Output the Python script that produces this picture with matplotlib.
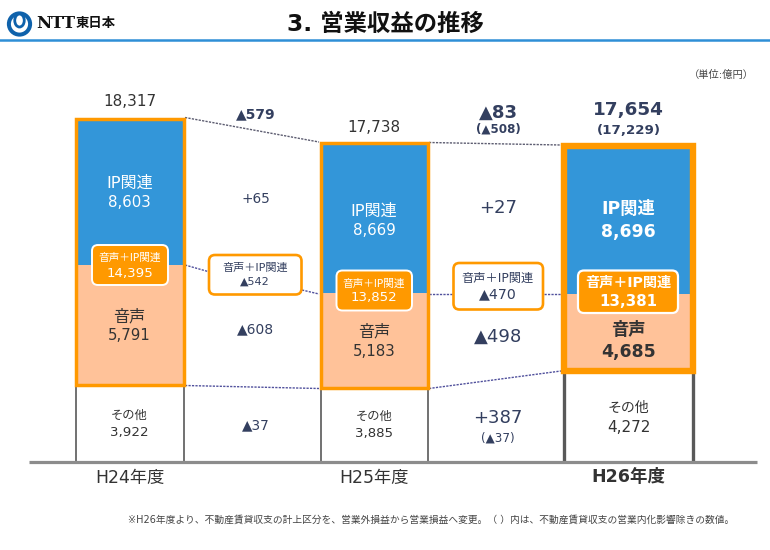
import matplotlib
matplotlib.use("Agg")
import matplotlib.pyplot as plt
from matplotlib.patches import FancyBboxPatch, Rectangle, Circle, Ellipse

plt.rcParams['font.family'] = ['DejaVu Sans', 'Noto Sans CJK JP']

# --- data ---
years = ['H24年度', 'H25年度', 'H26年度']
ip_values = [8603, 8669, 8696]
voice_values = [5791, 5183, 4685]
other_values = [3922, 3885, 4272]
combined_values = [14395, 13852, 13381]
totals = ['18,317', '17,738', '17,654']
total_adjusted = '(17,229)'
# The source bars are schematic, not to scale: drawn heights
other_drawn = [77, 74.5, 91.5]
voice_drawn = [120, 94.5, 77]
ip_drawn = [146.5, 150, 148]

DARK = '#333333'
NAVY = '#333f5f'
ORANGE = '#ff9900'
BLUE = '#3396d9'
PEACH = '#ffc299'
BASE = 462

fig = plt.figure(figsize=(7.7, 5.5), dpi=100)
ax = fig.add_axes([0, 0, 1, 1])
ax.set_xlim(0, 770)
ax.set_ylim(BASE - 550, BASE)
ax.axis('off')


def Y(py):
    return BASE - py


def T(x, py, s, size, color=DARK, weight='normal', ha='center', z=10):
    ax.text(x, Y(py), s, fontsize=size, color=color, fontweight=weight,
            ha=ha, va='center', zorder=z)


# header
ax.plot([0, 770], [Y(40), Y(40)], color='#2f8fd6', lw=1.8, zorder=1)
ax.add_patch(Circle((19.5, Y(24)), 10.6, fc='white', ec='#0f62ab', lw=2.9, zorder=2))
ax.add_patch(Ellipse((19.5, Y(20.5)), 9.5, 13, fc='white', ec='#0f62ab', lw=2.0, zorder=3))
ax.text(36, Y(24), 'NTT', fontsize=12, family=['DejaVu Serif'], fontweight='bold',
        color='#111111', ha='left', va='center')
ax.text(75.5, Y(24), '東日本', fontsize=9.6, fontweight='bold', color='#111111',
        ha='left', va='center')
T(385.5, 24.5, '3. 営業収益の推移', 16.8, color='#111111', weight='bold')
T(721, 75, '（単位:億円）', 7.4, color='#444444')

# geometry of the three bars
lefts = [76, 320.5, 564]
rights = [183.5, 428, 693]
edge_w = [2.5, 2.5, 4.6]
side_w = [1.2, 1.2, 2.4]
widths = [r - l for l, r in zip(lefts, rights)]
centers = [(l + r) / 2 for l, r in zip(lefts, rights)]

ax.bar(centers, ip_drawn, widths,
       bottom=[a + b for a, b in zip(other_drawn, voice_drawn)], color=BLUE, zorder=3)
ax.bar(centers, voice_drawn, widths, bottom=other_drawn, color=PEACH, zorder=3)

for i in range(3):
    tot = other_drawn[i] + voice_drawn[i] + ip_drawn[i]
    ax.add_patch(Rectangle((lefts[i], other_drawn[i]), widths[i], tot - other_drawn[i],
                           fc='none', ec=ORANGE, lw=edge_w[i], joinstyle='miter', zorder=5))
    for x in (lefts[i], rights[i]):
        ax.plot([x, x], [0, other_drawn[i]], color='#595959', lw=side_w[i], zorder=2,
                solid_capstyle='butt')

# baseline
ax.plot([29, 757], [0, 0], color='#8c8c8c', lw=2.3, zorder=4, solid_capstyle='butt')

# connectors
grey = dict(color='#5c5c70', lw=1.0, ls=(0, (1.6, 0.9)), zorder=2)
blue = dict(color='#50509c', lw=1.0, ls=(0, (1.6, 0.9)), zorder=2)
ax.plot([185, 319], [Y(117.5), Y(142)], **grey)
ax.plot([429, 561], [Y(142.5), Y(145)], **grey)
ax.plot([185, 208], [Y(265), Y(271.5)], **blue)
ax.plot([302, 319], [Y(290), Y(294)], **blue)
ax.plot([429, 453], [Y(293.5), Y(293.5)], **blue)
ax.plot([544, 561], [Y(293.5), Y(293.5)], **blue)
ax.plot([185, 319], [Y(385.5), Y(388.5)], **blue)
ax.plot([429, 561], [Y(388.5), Y(371)], **blue)


def rbox(x0, x1, py0, py1, fc, ec, lw, z=6, r=6):
    ax.add_patch(FancyBboxPatch((x0 + r, Y(py1) + r), x1 - x0 - 2 * r, py1 - py0 - 2 * r,
                                boxstyle=f'round,pad={r},rounding_size={r}',
                                fc=fc, ec=ec, lw=lw, zorder=z))


# callouts over the bars
rbox(92, 168, 245, 285, ORANGE, 'white', 1.4)
rbox(336.5, 412, 270.5, 310.5, ORANGE, 'white', 1.4)
rbox(578, 678, 270.5, 313, ORANGE, 'white', 1.6)
T(129.5, 257.5, '音声＋IP関連', 7.7, 'white')
T(129.5, 273.5, f'{combined_values[0]:,}', 9.6, 'white')
T(374, 283.5, '音声＋IP関連', 7.7, 'white')
T(374, 298, f'{combined_values[1]:,}', 9.6, 'white')
T(628, 283, '音声＋IP関連', 10.2, 'white', 'bold')
T(628, 301, f'{combined_values[2]:,}', 10.8, 'white', 'bold')

# white callouts
rbox(209, 301.5, 255, 294.5, 'white', ORANGE, 1.9)
rbox(453.5, 543, 263, 309.5, 'white', ORANGE, 1.9)
T(255, 268, '音声＋IP関連', 8, NAVY)
T(255, 282, '▲542', 8, NAVY)
T(498, 278.5, '音声＋IP関連', 8.8, NAVY)
T(498, 294, '▲470', 10.2, NAVY)

# totals
T(129.5, 101.5, totals[0], 11, DARK)
T(374, 128, totals[1], 11, DARK)
T(628.5, 110.5, totals[2], 13.2, NAVY, 'bold')
T(628.5, 131, total_adjusted, 9.6, NAVY, 'bold')

# segment labels
T(129.5, 183, 'IP関連', 11.6, 'white')
T(129.5, 202.5, f'{ip_values[0]:,}', 10.8, 'white')
T(374, 211, 'IP関連', 11.6, 'white')
T(374, 230.5, f'{ip_values[1]:,}', 10.8, 'white')
T(628.5, 208.5, 'IP関連', 12.4, 'white', 'bold')
T(628.5, 232, f'{ip_values[2]:,}', 12.4, 'white', 'bold')

T(129.5, 316.5, '音声', 11.6, DARK)
T(129.5, 336, f'{voice_values[0]:,}', 10.8, DARK)
T(374, 332, '音声', 11.6, DARK)
T(374, 351, f'{voice_values[1]:,}', 10.8, DARK)
T(628.5, 330, '音声', 12.4, DARK, 'bold')
T(628.5, 352, f'{voice_values[2]:,}', 12.4, DARK, 'bold')

T(129.5, 415.5, 'その他', 8.8, DARK)
T(129.5, 432.5, f'{other_values[0]:,}', 9.6, DARK)
T(374, 416.5, 'その他', 8.8, DARK)
T(374, 433.5, f'{other_values[1]:,}', 9.6, DARK)
T(628.5, 408, 'その他', 10, DARK)
T(628.5, 427, f'{other_values[2]:,}', 11, DARK)

# differences
T(255.5, 114, '▲579', 10, NAVY, 'bold')
T(255.5, 199, '+65', 9.8, NAVY)
T(255.5, 329, '▲608', 10, NAVY)
T(255.5, 425, '▲37', 9.8, NAVY)
T(498, 112.5, '▲83', 13, NAVY, 'bold')
T(498, 129, '(▲508)', 8.6, NAVY, 'bold')
T(498, 208, '+27', 13, NAVY)
T(498, 337, '▲498', 13, NAVY)
T(498, 418, '+387', 13, NAVY)
T(498, 438, '(▲37)', 8.6, NAVY)

# years
T(129.5, 477.5, years[0], 12.4, DARK)
T(374, 477.5, years[1], 12.4, DARK)
T(628.5, 477.5, years[2], 12.6, DARK, 'bold')

T(431.5, 520, '※H26年度より、不動産賃貸収支の計上区分を、営業外損益から営業損益へ変更。（ ）内は、不動産賃貸収支の営業内化影響除きの数値。',
  7.0, '#444444')

fig.savefig('out.png', dpi=100)
